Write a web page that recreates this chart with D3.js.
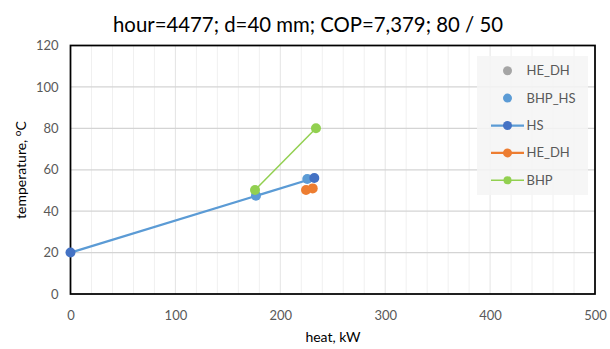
<!DOCTYPE html>
<html>
<head>
<meta charset="utf-8">
<script src="https://cdn.jsdelivr.net/npm/d3@7"></script>
<style>
  html, body { margin: 0; padding: 0; background: #fff; }
  svg text { font-family: Lato, "Open Sans", sans-serif; }
</style>
</head>
<body>
<svg id="chart" width="610" height="349"></svg>
<script>
// Series data: heat (kW) vs temperature (°C)
const hsHeat = [0, 232.4];
const hsTemp = [20, 56];
const bhpHsHeat = [176.8, 225.7];
const bhpHsTemp = [47.5, 55.5];
const heDhHeat = [224.5, 230.9];
const heDhTemp = [50.2, 51.0];
const bhpHeat = [175.9, 234.0];
const bhpTemp = [50.2, 80.0];

const xTicks = [0, 100, 200, 300, 400, 500];
const yTicks = [0, 20, 40, 60, 80, 100, 120];
const legendNames = ["HE_DH", "BHP_HS", "HS", "HE_DH", "BHP"];

const svg = d3.select("#chart");
const m = { left: 70.5, right: 595, top: 45.5, bottom: 294 };

const x = d3.scaleLinear().domain([0, 500]).range([m.left, m.right]);
const y = d3.scaleLinear().domain([0, 120]).range([m.bottom, m.top]);

// Title, centred on the whole chart
svg.append("text")
  .attr("x", 308).attr("y", 32)
  .attr("text-anchor", "middle")
  .attr("font-size", 22).attr("fill", "#000")
  .attr("textLength", 390).attr("lengthAdjust", "spacingAndGlyphs")
  .text("hour=4477; d=40 mm; COP=7,379; 80 / 50");

// Gridlines: minor verticals every 20, major every 100, horizontals every 20
const g = svg.append("g");
g.selectAll("line.vmin").data(d3.range(20, 500, 20).filter(v => v % 100 !== 0))
  .join("line")
  .attr("x1", d => x(d)).attr("x2", d => x(d))
  .attr("y1", y(0)).attr("y2", y(120))
  .attr("stroke", "#f0f0f0").attr("stroke-width", 1);
g.selectAll("line.vmaj").data(xTicks.slice(1, -1))
  .join("line")
  .attr("x1", d => x(d)).attr("x2", d => x(d))
  .attr("y1", y(0)).attr("y2", y(120))
  .attr("stroke", "#e4e4e4").attr("stroke-width", 1);
g.selectAll("line.h").data(yTicks.slice(1, -1))
  .join("line")
  .attr("x1", x(0)).attr("x2", x(500))
  .attr("y1", d => y(d)).attr("y2", d => y(d))
  .attr("stroke", "#d4d4d4").attr("stroke-width", 1.25);

// Axes (labels only)
const xAxis = svg.append("g").attr("transform", `translate(0,${y(0)})`)
  .call(d3.axisBottom(x).tickValues(xTicks).tickSize(0).tickPadding(17));
const yAxis = svg.append("g").attr("transform", `translate(${x(0)},0)`)
  .call(d3.axisLeft(y).tickValues(yTicks).tickSize(0).tickPadding(12));
[xAxis, yAxis].forEach(a => {
  a.select(".domain").remove();
  a.selectAll("text").attr("font-size", 13).attr("fill", "#595959")
    .attr("font-family", "Lato, 'Open Sans', sans-serif");
});

// Plot frame
svg.append("rect")
  .attr("x", x(0)).attr("y", y(120))
  .attr("width", x(500) - x(0)).attr("height", y(0) - y(120))
  .attr("fill", "none").attr("stroke", "#000").attr("stroke-width", 1.75);

// Axis titles
svg.append("text")
  .attr("x", 333).attr("y", 342)
  .attr("text-anchor", "middle").attr("font-size", 14).attr("fill", "#000")
  .text("heat, kW");
const yt = svg.append("text")
  .attr("transform", `translate(26,170) rotate(-90)`)
  .attr("text-anchor", "middle").attr("font-size", 14).attr("fill", "#000");
yt.append("tspan").text("temperature, ");
yt.append("tspan").attr("font-size", 10).attr("dy", -5).text("o");
yt.append("tspan").attr("dy", 5).text("C");

// Legend background
const lg = svg.append("g");
lg.append("rect").attr("x", 477).attr("y", 56).attr("width", 111).attr("height", 139)
  .attr("fill", "#f4f4f4").attr("opacity", 0.85);

const line = d3.line().x(d => x(d[0])).y(d => y(d[1]));
const zip = (a, b) => a.map((v, i) => [v, b[i]]);

// HS line
svg.append("path").datum(zip(hsHeat, hsTemp)).attr("d", line)
  .attr("fill", "none").attr("stroke", "#5B9BD5").attr("stroke-width", 2.25);
// BHP line
svg.append("path").datum(zip(bhpHeat, bhpTemp)).attr("d", line)
  .attr("fill", "none").attr("stroke", "#92D050").attr("stroke-width", 1.5);

function dots(hx, ty, color) {
  svg.append("g").selectAll("circle").data(zip(hx, ty)).join("circle")
    .attr("cx", d => x(d[0])).attr("cy", d => y(d[1])).attr("r", 5)
    .attr("fill", color);
}
dots(heDhHeat, heDhTemp, "#ED7D31");
dots(bhpHsHeat, bhpHsTemp, "#5B9BD5");
dots(hsHeat, hsTemp, "#4472C4");
dots(bhpHeat, bhpTemp, "#92D050");

// Legend entries
const items = [
  { type: "dot", color: "#A5A5A5" },
  { type: "dot", color: "#5B9BD5" },
  { type: "line", color: "#5B9BD5", mcolor: "#4472C4", w: 2.25 },
  { type: "line", color: "#ED7D31", mcolor: "#ED7D31", w: 2.25 },
  { type: "line", color: "#92D050", mcolor: "#92D050", w: 1.5, r: 4 }
];
items.forEach((it, i) => {
  const cy = 70.7 + i * 27.4;
  if (it.type === "line") {
    lg.append("line").attr("x1", 491).attr("x2", 524).attr("y1", cy).attr("y2", cy)
      .attr("stroke", it.color).attr("stroke-width", it.w);
  }
  lg.append("circle").attr("cx", 507.5).attr("cy", cy).attr("r", it.r || 4.5)
    .attr("fill", it.mcolor || it.color);
  lg.append("text").attr("x", 526.5).attr("y", cy + 4.5)
    .attr("font-size", 13).attr("fill", "#595959").text(legendNames[i]);
});
</script>
</body>
</html>
